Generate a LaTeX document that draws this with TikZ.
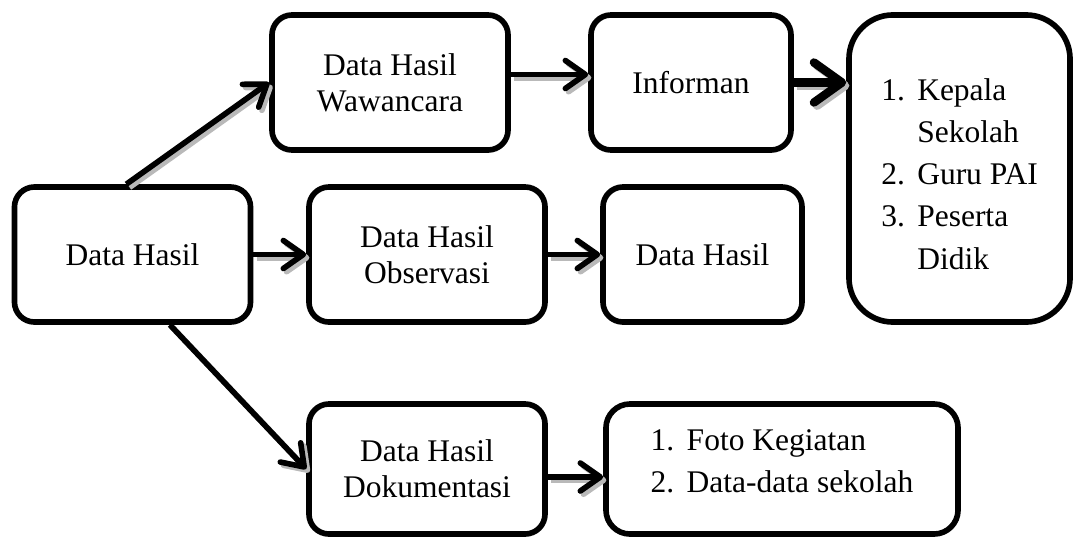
\documentclass[tikz,border=0pt]{standalone}
\usepackage{fontspec}
\setmainfont{Liberation Serif}
\usetikzlibrary{positioning,arrows.meta}

\begin{document}
\begin{tikzpicture}[x=0.025cm,y=-0.025cm,
      every node/.style={draw,line width=4pt,rounded corners=0.5cm,align=center,
        font=\fontsize{22.4pt}{25.6pt}\selectfont},
      box/.style={minimum width=5.9cm,minimum height=3.375cm},
      listbox/.style={font=\fontsize{22.4pt}{29.9pt}\selectfont},
      arr/.style={line width=4pt,
        -{Straight Barb[length=0.5cm,width=0.7cm,line cap=round,line join=round]}},
      bigarr/.style={line width=6pt,
        -{Straight Barb[length=0.7cm,width=1cm,line cap=round,line join=round]}},
      shadow/.style={draw=gray!55,transform canvas={shift={(0.08cm,-0.08cm)}}},
      plain/.style={draw=black}
    ]
    \useasboundingbox (0,0) rectangle (1076,540);

    % the boxes
    \node[box] (src) at (132.5,254.5) {Data Hasil};
    \node[box] (waw) at (390,82.5) {Data Hasil\\Wawancara};
    \node[box,minimum width=5cm] (inf) at (691,82.5) {Informan};
    \node[box] (obs) at (427,254.5) {Data Hasil\\Observasi};
    \node[box,minimum width=4.975cm] (hsl) at (702.5,254.5) {Data Hasil};
    \node[box,minimum height=3.25cm] (dok) at (427,469) {Data Hasil\\Dokumentasi};

    % the lists
    \node[listbox,minimum width=5.525cm,minimum height=7.675cm,rounded corners=1.1cm] (nara) at (959.5,168.5)
      {\raisebox{-0.2cm}[\height][\depth]{\begin{tabular}{@{}l@{\hspace{0.31cm}}l@{}}
        1. & Kepala\\ & Sekolah\\ 2. & Guru PAI\\ 3. & Peserta\\ & Didik
      \end{tabular}}};
    \node[listbox,minimum width=8.8cm,minimum height=3.25cm,rounded corners=0.6cm] (bukti) at (782,469)
      {\raisebox{0.15cm}[\height][\depth]{\begin{tabular}{@{}l@{\hspace{0.31cm}}l@{}}
        1. & Foto Kegiatan\\ 2. & Data-data sekolah
      \end{tabular}}};

    % the arrows, first their shadows
    \foreach \st in {shadow,plain} {
      \foreach \a/\b in {src.95/waw.west, src.east/obs.west, src.-62/dok.west, obs.east/hsl.west}
        \draw[arr,\st] (\a) -- (\b);
      \draw[arr,\st] ([yshift=0.2cm]waw.east) -- ([yshift=0.2cm]inf.west);
      \draw[arr,\st] ([yshift=-0.2cm]dok.east) -- ([yshift=-0.2cm]bukti.west);
      \draw[bigarr,\st] (inf.east) -- (inf.east -| nara.west);
    }
\end{tikzpicture}
\end{document}
